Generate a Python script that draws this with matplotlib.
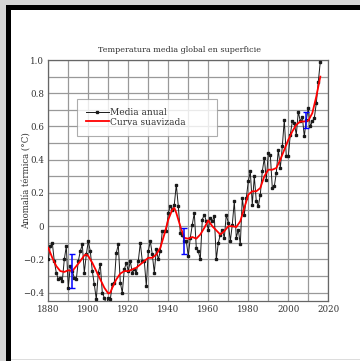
import matplotlib
matplotlib.use("Agg")
import matplotlib.pyplot as plt
from matplotlib.patches import Rectangle
from matplotlib.ticker import MultipleLocator, FuncFormatter

years = list(range(1880, 2017))
annual = [-0.20, -0.12, -0.10, -0.21, -0.28, -0.32, -0.31, -0.33, -0.20, -0.12,
          -0.37, -0.24, -0.27, -0.31, -0.32, -0.21, -0.15, -0.11, -0.28, -0.17,
          -0.09, -0.15, -0.27, -0.35, -0.44, -0.28, -0.23, -0.40, -0.43, -0.47,
          -0.43, -0.44, -0.35, -0.34, -0.16, -0.11, -0.34, -0.40, -0.26, -0.22,
          -0.27, -0.21, -0.28, -0.26, -0.28, -0.21, -0.10, -0.21, -0.21, -0.36,
          -0.15, -0.09, -0.17, -0.28, -0.14, -0.20, -0.15, -0.03, -0.03, -0.03,
          0.08, 0.12, 0.10, 0.13, 0.25, 0.12, -0.04, -0.05, -0.09, -0.09,
          -0.18, -0.07, 0.01, 0.08, -0.13, -0.15, -0.20, 0.04, 0.07, 0.03,
          -0.02, 0.05, 0.03, 0.06, -0.20, -0.10, -0.05, -0.02, -0.07, 0.07,
          0.02, -0.09, 0.01, 0.15, -0.07, -0.02, -0.11, 0.17, 0.07, 0.17,
          0.27, 0.33, 0.13, 0.30, 0.15, 0.12, 0.19, 0.33, 0.41, 0.28,
          0.44, 0.43, 0.23, 0.24, 0.32, 0.46, 0.35, 0.48, 0.64, 0.42,
          0.42, 0.55, 0.63, 0.62, 0.55, 0.69, 0.63, 0.66, 0.54, 0.64,
          0.71, 0.60, 0.63, 0.65, 0.74, 0.87, 0.99]

smooth_years = [1880, 1882, 1884, 1886, 1888, 1890, 1892, 1894, 1896, 1898, 1899,
                1900, 1902, 1904, 1906, 1908, 1910, 1911, 1912, 1914, 1916, 1918,
                1920, 1922, 1924, 1926, 1928, 1930, 1932, 1934, 1936, 1938, 1940,
                1942, 1943, 1944, 1946, 1948, 1950, 1952, 1954, 1956, 1958, 1960,
                1962, 1964, 1966, 1968, 1970, 1972, 1974, 1976, 1978, 1980, 1982,
                1984, 1986, 1988, 1990, 1992, 1994, 1996, 1998, 2000, 2002, 2004,
                2006, 2008, 2010, 2012, 2014, 2016]
smooth = [-0.13, -0.19, -0.24, -0.27, -0.275, -0.265, -0.27, -0.24, -0.21, -0.175, -0.17,
          -0.18, -0.22, -0.27, -0.32, -0.37, -0.405, -0.40, -0.37, -0.32, -0.285, -0.27,
          -0.27, -0.26, -0.25, -0.23, -0.21, -0.19, -0.19, -0.17, -0.13, -0.05, 0.04,
          0.10, 0.11, 0.08, 0.00, -0.07, -0.075, -0.065, -0.075, -0.05, -0.01, 0.035,
          0.00, -0.025, -0.05, -0.03, 0.00, 0.00, -0.005, 0.03, 0.11, 0.19, 0.21,
          0.21, 0.23, 0.30, 0.34, 0.34, 0.35, 0.40, 0.46, 0.52, 0.57, 0.61,
          0.63, 0.63, 0.635, 0.68, 0.78, 0.90]

err_years = [1892, 1948, 2009]
err_center = [-0.27, -0.09, 0.64]
err_half = [0.10, 0.08, 0.05]

title = "Temperatura media global en superficie"
ylabel = "Anomalía térmica (°C)"
label_annual = "Media anual"
label_smooth = "Curva suavizada"

plt.rcParams['font.family'] = ['DejaVu Serif']
txt = '#333333'

fig = plt.figure(figsize=(3.6, 3.61), dpi=100)
fig.patch.set_facecolor('#d6d6d6')
W, H = 360.0, 361.0
fig.patches.append(Rectangle((6 / W, 0), 1, (H - 5) / H, transform=fig.transFigure,
                             facecolor='black', edgecolor='none', zorder=-10))
fig.patches.append(Rectangle((11 / W, 0), 1, (H - 10) / H, transform=fig.transFigure,
                             facecolor='white', edgecolor='none', zorder=-9))
fig.patches.append(Rectangle((11 / W, 1 / H), 1, 1 / H, transform=fig.transFigure,
                             facecolor='#dddddd', edgecolor='none', zorder=-8))

ax = fig.add_axes([48.3 / W, 60 / H, 280 / W, 241 / H])
ax.set_zorder(1)
ax.plot(years, annual, color='#1a1a1a', lw=0.7, marker='s', ms=2.0, zorder=3,
        label=label_annual)
ax.plot(smooth_years, smooth, color='#ff0000', lw=1.3, zorder=4, label=label_smooth)
ax.errorbar(err_years, err_center, yerr=err_half, fmt='none', ecolor='#0000ff',
            elinewidth=1.1, capsize=2, capthick=1.0, zorder=5)

ax.set_xlim(1880, 2020)
ax.set_ylim(-0.45, 1.0)
ax.xaxis.set_major_locator(MultipleLocator(20))
ax.xaxis.set_minor_locator(MultipleLocator(10))
ax.yaxis.set_major_locator(MultipleLocator(0.2))
ax.yaxis.set_minor_locator(MultipleLocator(0.1))

def fmt(v, pos):
    if abs(v) < 1e-9:
        return '0'
    return f'{v:.1f}'.replace('-', '\u2212')

ax.yaxis.set_major_formatter(FuncFormatter(fmt))
ax.grid(True, which='both', color='#999999', lw=0.9)
ax.set_axisbelow(True)
for s in ax.spines.values():
    s.set_color('#666666')
    s.set_linewidth(0.9)
ax.tick_params(which='both', length=0, labelsize=6.2, labelcolor=txt, pad=3)

ax.set_title(title, fontsize=5.8, color=txt, pad=6, x=0.47)
ax.set_ylabel(ylabel, fontsize=6.2, color=txt)
ax.yaxis.set_label_coords(-0.062, 0.5)

leg = ax.legend(loc='upper left', bbox_to_anchor=(0.1025, 0.693, 0.5, 0.145),
                mode='expand', fontsize=6.5,
                frameon=True, fancybox=False, edgecolor='#999999',
                borderpad=1.0, handlelength=2.5, handletextpad=0.2,
                labelspacing=0.05, borderaxespad=0)
for t in leg.get_texts():
    t.set_color(txt)
leg.get_frame().set_linewidth(0.8)

fig.savefig('out.png', dpi=100, facecolor=fig.get_facecolor())
